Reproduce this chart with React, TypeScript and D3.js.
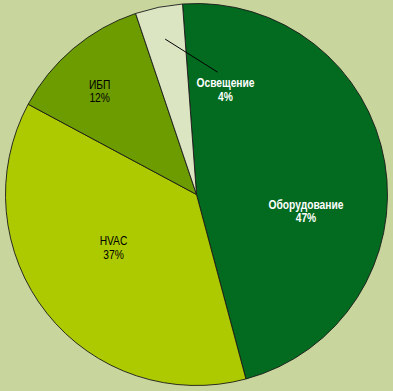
import React from "react";
import * as d3 from "d3";

const categories = ["Оборудование", "HVAC", "ИБП", "Освещение"];
const values = [47, 37, 12, 4];
const colors = ["#036b1f", "#adca00", "#6c9c00", "#dce5c1"];
const labelColors = ["#ffffff", "#000000", "#000000", "#ffffff"];

// label placement: polar (angle in degrees clockwise from top, radius fraction)
const labelPolar = [
  { a: 98.8, r: 0.58 },
  { a: 237.2, r: 0.517 },
  { a: 316.9, r: 0.742 },
  { a: 15.5, r: 0.568 },
];
// leader line end for the small slice (angle deg, radius fraction)
const leaderEnd = { a: 9.8, r: 0.65 };

const W = 393;
const H = 391;

export default function App() {
  const cx = 196.5;
  const cy = 194.5;
  const R = 191;
  const start = (-4.2 * Math.PI) / 180;
  const pie = d3
    .pie<number>()
    .sort(null)
    .startAngle(start)
    .endAngle(start + 2 * Math.PI)(values);
  const arc = d3.arc<d3.PieArcDatum<number>>().innerRadius(0).outerRadius(R);
  const toXY = (aDeg: number, r: number) => {
    const a = (aDeg * Math.PI) / 180;
    return [Math.sin(a) * r, -Math.cos(a) * r];
  };
  const small = pie[3];
  const mid = (small.startAngle + small.endAngle) / 2;
  const lStart = [Math.sin(mid) * R * 0.83, -Math.cos(mid) * R * 0.83];
  const lEnd = toXY(leaderEnd.a, leaderEnd.r * R);
  const sx = 0.82;
  return (
    <div style={{ position: "absolute", left: 0, top: 0 }}>
      <svg width={W} height={H} style={{ display: "block" }}>
        <rect width={W} height={H} fill="#c8d69d" />
        <g transform={`translate(${cx},${cy})`}>
          {pie.map((d, i) => (
            <path key={i} d={arc(d) || ""} fill={colors[i]} stroke="#1a1a1a" strokeWidth={0.9} strokeLinejoin="round" />
          ))}
          <line x1={lStart[0]} y1={lStart[1]} x2={lEnd[0]} y2={lEnd[1]} stroke="#000" strokeWidth={1} />
          {pie.map((d, i) => {
            const [x, y] = toXY(labelPolar[i].a, labelPolar[i].r * R);
            return (
              <g key={i} transform={`translate(${x},${y}) scale(${sx},1)`}>
                <text
                  x={0}
                  y={0}
                  textAnchor="middle"
                  fill={labelColors[i]}
                  fontFamily="'Liberation Sans', Arial, sans-serif"
                  fontSize={12.5}
                  fontWeight={labelColors[i] === "#ffffff" ? "bold" : "normal"}
                >
                  <tspan x={0} dy="-0.2em">{categories[i]}</tspan>
                  <tspan x={0} dy="1.05em">{values[i]}%</tspan>
                </text>
              </g>
            );
          })}
        </g>
      </svg>
    </div>
  );
}
